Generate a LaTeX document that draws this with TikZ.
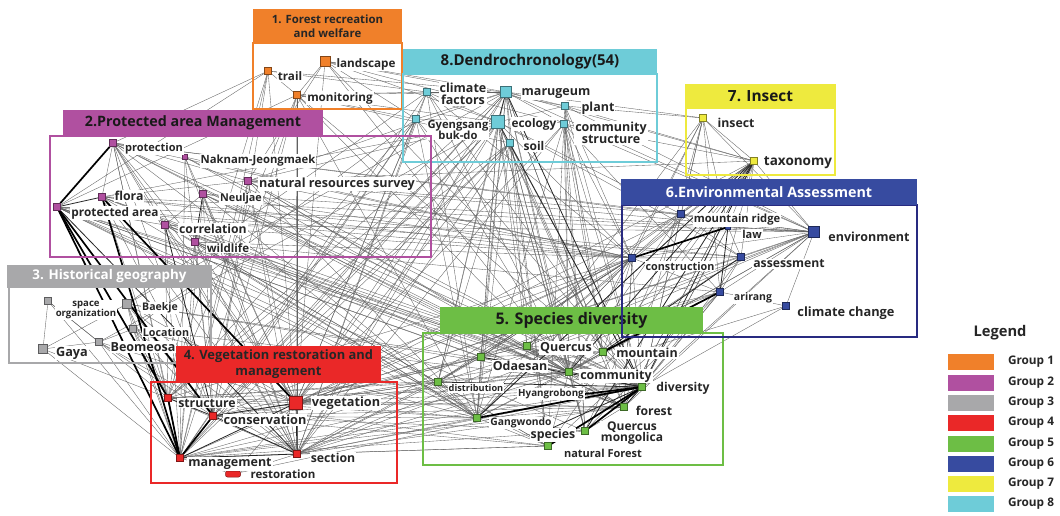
\documentclass[tikz,border=0pt]{standalone}
\usepackage{fontspec}
\setmainfont{Open Sans}
\definecolor{gorange}{RGB}{240,128,42}
\definecolor{gpurple}{RGB}{176,80,160}
\definecolor{ggray}{RGB}{168,168,170}
\definecolor{gred}{RGB}{234,40,40}
\definecolor{ggreen}{RGB}{109,190,69}
\definecolor{gblue}{RGB}{55,75,160}
\definecolor{gnavy}{RGB}{40,42,128}
\definecolor{gyellow}{RGB}{238,234,62}
\definecolor{gcyan}{RGB}{110,204,216}
\pgfdeclarelayer{bg}
\pgfsetlayers{bg,main}
\begin{document}
\begin{tikzpicture}[x=1pt,y=-1pt,
  edge/.style={draw=black!62, line width=0.35pt},
  edgem/.style={draw=black!85, line width=0.8pt},
  edgeh/.style={draw=black, line width=1.7pt},
  sq/.style={draw=#1!55!black, fill=#1, minimum size=7pt, inner sep=0pt, line width=0.5pt},
  lab/.style={font=\bfseries\fontsize{#1}{#1}\selectfont, fill=white, inner sep=1pt, text=black!85, align=center},
  lab/.default={11},
  hdr/.style={fill=#1, inner sep=0pt, align=center},
  box/.style={draw=#1, line width=2.6pt},
  sw/.style={fill=#1, draw=white, minimum width=47pt, minimum height=17pt, inner sep=0pt},
  gl/.style={font=\bfseries\fontsize{11.8}{11.8}\selectfont, text=black!85}
]
\useasboundingbox (0,0) rectangle (1060,516);

% ---------- squares ----------
% group 1
\node[sq=gorange] (trail) at (268,71) {};
\node[sq=gorange, minimum size=10pt] (land) at (325,61) {};
\node[sq=gorange] (monit) at (297,95) {};
% group 8
\node[sq=gcyan] (clim) at (427,92) {};
\node[sq=gcyan, minimum size=11pt] (maru) at (506,92) {};
\node[sq=gcyan] (gyeng) at (416,119) {};
\node[sq=gcyan, minimum size=13pt] (eco) at (498,122) {};
\node[sq=gcyan] (plant) at (565,106) {};
\node[sq=gcyan] (comst) at (564,124) {};
\node[sq=gcyan] (soil) at (510,143) {};
% group 2
\node[sq=gpurple] (prot) at (113,143) {};
\node[sq=gpurple, minimum size=5pt] (nak) at (185,157) {};
\node[sq=gpurple] (nrs) at (248,181) {};
\node[sq=gpurple] (flora) at (102,197) {};
\node[sq=gpurple] (neul) at (203,194) {};
\node[sq=gpurple] (parea) at (57,207) {};
\node[sq=gpurple] (corr) at (165,225) {};
\node[sq=gpurple] (wild) at (195,242) {};
% group 3
\node[sq=ggray] (space) at (48,301) {};
\node[sq=ggray, minimum size=9pt] (baek) at (127,304) {};
\node[sq=ggray] (loc) at (133,329) {};
\node[sq=ggray, minimum size=9pt] (gaya) at (43,349) {};
\node[sq=ggray] (beom) at (99,342) {};
% group 4
\node[sq=gred] (struc) at (168,398) {};
\node[sq=gred, minimum size=13pt] (veg) at (296,403) {};
\node[sq=gred] (cons) at (213,416) {};
\node[sq=gred] (mgmt) at (180,458) {};
\node[sq=gred] (sect) at (297,454) {};
\node[sq=gred, minimum width=15pt, minimum height=6pt, rounded corners=2pt] (rest) at (233,474) {};
% group 5
\node[sq=ggreen] (querc) at (527,346) {};
\node[sq=ggreen] (mount) at (603,352) {};
\node[sq=ggreen] (odae) at (481,357) {};
\node[sq=ggreen] (comm) at (569,372) {};
\node[sq=ggreen] (distr) at (438,382) {};
\node[sq=ggreen] (div) at (642,387) {};
\node[sq=ggreen] (forest) at (624,407) {};
\node[sq=ggreen] (gang) at (477,418) {};
\node[sq=ggreen] (qmong) at (585,431) {};
\node[sq=ggreen] (natf) at (548,446) {};
% group 6
\node[sq=gblue] (mridge) at (681,214) {};
\node[sq=gblue, minimum size=5pt] (law) at (728,227) {};
\node[sq=gblue, minimum size=11pt] (env) at (814,232) {};
\node[sq=gblue] (constr) at (632,258) {};
\node[sq=gblue] (assess) at (741,257) {};
\node[sq=gblue] (arir) at (720,292) {};
\node[sq=gblue] (cchange) at (786,306) {};
% group 7
\node[sq=gyellow] (insect) at (703,118) {};
\node[sq=gyellow] (tax) at (754,161) {};

% ---------- labels ----------
\node[lab=11.7] (trail-l) at (290,76) {trail};
\node[lab=11.7] (land-l) at (366,64) {landscape};
\node[lab=11.7] (monit-l) at (340,98) {monitoring};
\node[lab=12.5] (clim-l) at (463,94) {climate\\[-1pt]factors};
\node[lab=12.5] (maru-l) at (556,94) {marugeum};
\node[lab=11.2] (gyeng-l) at (458,130) {Gyengsang\\[-1pt]buk-do};
\node[lab=11.8] (eco-l) at (534,124) {ecology};
\node[lab=12.5] (plant-l) at (598,108) {plant};
\node[lab=12.5] (comst-l) at (611,133) {community\\[-1pt]structure};
\node[lab=12] (soil-l) at (534,146) {soil};
\node[lab=11] (prot-l) at (154,149) {protection};
\node[lab=11.3] (nak-l) at (258,161) {Naknam-Jeongmaek};
\node[lab=12.6] (nrs-l) at (337,184) {natural resources survey};
\node[lab=12.3] (flora-l) at (129,196) {flora};
\node[lab=10.8] (neul-l) at (241,199) {Neuljae};
\node[lab=11.8] (parea-l) at (115,213) {protected area};
\node[lab=12.2] (corr-l) at (213,229) {correlation};
\node[lab=11.5] (wild-l) at (228,248) {wildlife};
\node[lab=9.6] (space-l) at (86,310) {space\\[0pt]organization};
\node[lab=10.5] (baek-l) at (160,308) {Baekje};
\node[lab=10.7] (loc-l) at (166,332) {Location};
\node[lab=12.7] (gaya-l) at (72,353) {Gaya};
\node[lab=12.5] (beom-l) at (143,347) {Beomeosa};
\node[lab=12.3] (struc-l) at (207,403) {structure};
\node[lab=12.7] (veg-l) at (346,403) {vegetation};
\node[lab=12.7] (cons-l) at (265,420) {conservation};
\node[lab=12.5] (mgmt-l) at (230,464) {management};
\node[lab=12.3] (sect-l) at (333,458) {section};
\node[lab=11.5] (rest-l) at (283,474) {restoration};
\node[lab=12.5] (querc-l) at (566,348) {Quercus};
\node[lab=12.5] (mount-l) at (647,353) {mountain};
\node[lab=12.4] (odae-l) at (520,366) {Odaesan};
\node[lab=12.5] (comm-l) at (616,376) {community};
\node[lab=9.2] (distr-l) at (476,388) {distribution};
\node[lab=9.8] (hyang-l) at (551,394) {Hyangrobong};
\node[lab=12.2] (div-l) at (683,388) {diversity};
\node[lab=12.2] (forest-l) at (654,411) {forest};
\node[lab=10.3] (gang-l) at (521,423) {Gangwondo};
\node[lab=12.3] (species-l) at (553,435) {species};
\node[lab=12] (qmong-l) at (632,433) {Quercus\\[-1pt]mongolica};
\node[lab=11] (natf-l) at (603,453) {natural Forest};
\node[lab=11.2] (mridge-l) at (737,220) {mountain ridge};
\node[lab=11] (law-l) at (752,234) {law};
\node[lab=12.5] (env-l) at (869,237) {environment};
\node[lab=10.8] (constr-l) at (680,266) {construction};
\node[lab=12.2] (assess-l) at (789,264) {assessment};
\node[lab=10.5] (arir-l) at (753,298) {arirang};
\node[lab=12.8] (cchange-l) at (846,313) {climate change};
\node[lab=12.3] (insect-l) at (736,123) {insect};
\node[lab=13.5] (tax-l) at (798,163) {taxonomy};

% ---------- edges ----------
\begin{pgfonlayer}{bg}
\path[fill=white] (0,0) rectangle (1060,516);
\foreach \a/\b in {trail/parea, trail/mgmt, trail/clim, trail/maru, trail/monit, trail/struc,
  land/monit, land/plant, land/comst, land/gyeng, land/eco,
  monit/clim, monit/gyeng, monit/maru, monit/mgmt, monit/soil, monit/div, monit/cons,
  clim/maru, clim/eco, clim/div, clim/veg, clim/comm,
  maru/plant, maru/comst, maru/comm, maru/mount, maru/forest, maru/veg, maru/sect, maru/gang, maru/qmong, maru/natf, maru/env, maru/querc,
  eco/plant, eco/comm, eco/mount, eco/querc, eco/forest, eco/veg, eco/mgmt, eco/sect, eco/natf, eco/cons, eco/constr, eco/odae,
  gyeng/eco, gyeng/maru, gyeng/comm, gyeng/veg, gyeng/cons, gyeng/div,
  plant/comst, plant/tax, plant/div, plant/comm, plant/env,
  comst/tax, comst/div, comst/forest, comst/comm, comst/qmong, comst/natf, comst/mount, comst/arir,
  soil/div, soil/comm, soil/gang, soil/veg, soil/sect, soil/mount,
  prot/flora, prot/corr, prot/wild, prot/veg, prot/sect, prot/mgmt, prot/cons, prot/div, prot/comm, prot/nrs,
  nak/cons, nak/veg, nak/div,
  nrs/flora, nrs/maru, nrs/veg, nrs/div, nrs/eco, nrs/comm, nrs/sect,
  flora/eco, flora/div, flora/comm, flora/sect, flora/constr,
  neul/corr, neul/veg, neul/sect, neul/comm, neul/div,
  parea/corr, parea/div, parea/forest, parea/env, parea/constr, parea/comm, parea/gang, parea/distr,
  corr/veg, corr/div, corr/comm, corr/sect, corr/env,
  wild/sect, wild/div, wild/veg, wild/comm, wild/cons, wild/forest,
  space/beom, gaya/baek, baek/loc, loc/beom, baek/mgmt, loc/struc, beom/mgmt, gaya/beom, baek/veg, loc/cons,
  struc/veg, struc/sect, struc/div, struc/comm, struc/distr, struc/gang,
  veg/div, veg/comm, veg/forest, veg/distr, veg/gang, veg/odae, veg/querc, veg/mount, veg/assess, veg/constr,
  cons/div, cons/comm, cons/gang, cons/odae, cons/forest,
  mgmt/div, mgmt/comm, mgmt/gang, mgmt/natf,
  sect/div, sect/forest, sect/comm, sect/gang, sect/natf, sect/distr, sect/odae,
  rest/mgmt, rest/sect,
  querc/mount, querc/comm, querc/odae, querc/div,
  mount/comm, mount/div, mount/odae, mount/env,
  odae/comm, odae/distr, odae/gang,
  comm/forest, comm/qmong, comm/gang, comm/distr, comm/natf,
  distr/gang,
  div/arir, div/constr, div/env, div/insect, div/assess,
  forest/qmong, forest/gang, gang/natf, gang/qmong,
  mridge/env, mridge/law, mridge/assess, mridge/constr, mridge/div, mridge/comm,
  law/env, law/assess, env/assess, env/constr, env/arir,
  constr/arir, constr/assess, constr/comm, constr/gang,
  assess/arir, arir/cchange, arir/comm,
  insect/tax, insect/mridge, insect/constr, insect/comm,
  tax/env, tax/constr, tax/arir, tax/forest, tax/mridge}
  \draw[edge] (\a) -- (\b);
% long cross-group edges
\foreach \a/\b in {maru/mgmt, maru/struc, maru/cons, maru/distr, maru/odae, eco/struc, eco/gang, eco/distr, eco/qmong,
  clim/sect, clim/mgmt, clim/gang, gyeng/sect, gyeng/mgmt, gyeng/struc, gyeng/gang, soil/mgmt, soil/cons, soil/struc,
  soil/qmong, soil/natf, soil/distr, comst/veg, comst/sect, comst/gang, comst/constr, comst/env, plant/mount, plant/qmong,
  plant/constr, plant/insect, maru/tax, maru/insect, eco/mridge, eco/assess, clim/constr, clim/baek, gyeng/loc, maru/baek, eco/beom,
  monit/veg, monit/sect, monit/comm, monit/gang, monit/struc, land/veg, land/div, land/comm, trail/cons, trail/veg, trail/prot,
  land/nrs, monit/parea, monit/eco, land/maru,
  prot/constr, prot/env, prot/mridge, prot/forest, prot/gang, prot/struc, nak/sect, nak/comm, nak/constr, nak/mgmt,
  nrs/constr, nrs/env, nrs/mridge, nrs/forest, nrs/gang, nrs/tax, nrs/mgmt, nrs/cons, neul/mgmt, neul/cons, neul/gang,
  neul/forest, neul/constr, neul/env, flora/forest, flora/gang, flora/struc, flora/cons, flora/env, flora/assess,
  corr/gang, corr/forest, corr/natf, corr/mgmt, corr/struc, corr/constr, wild/gang, wild/natf, wild/mgmt, wild/struc,
  wild/constr, wild/arir, parea/natf, parea/qmong, parea/assess, parea/odae,
  space/mgmt, space/struc, baek/sect, baek/cons, baek/div, baek/comm, loc/veg, loc/sect, loc/div, beom/cons, beom/sect,
  gaya/mgmt, gaya/struc, loc/mgmt, baek/struc, beom/veg, space/gaya, loc/gang,
  veg/env, veg/arir, veg/tax, veg/mridge, sect/constr, sect/arir, sect/env, struc/constr, struc/forest, mgmt/forest,
  mgmt/qmong, mgmt/distr, cons/natf, cons/qmong, cons/distr, cons/constr, struc/natf, mgmt/constr, rest/div, rest/veg,
  querc/constr, querc/env, odae/constr, odae/env, distr/constr, distr/arir, gang/constr, gang/arir, natf/arir, qmong/arir,
  forest/arir, forest/constr, forest/env, comm/env, comm/assess, mount/constr, mount/tax, querc/tax, odae/tax, distr/tax,
  gang/tax, forest/tax, natf/tax, qmong/mridge, div/law,
  insect/env, insect/law, insect/arir, insect/forest, insect/gang, tax/assess, tax/law, cchange/env, cchange/div,
  cchange/comm, law/div, constr/forest, constr/distr, constr/odae}
  \draw[edge] (\a) -- (\b);
\foreach \a/\b in {parea/sect, veg/sect, cons/sect, mgmt/sect, mgmt/veg, flora/parea, corr/cons,
  neul/wild, tax/div, tax/comm, law/arir, div/forest, comm/div, maru/div, eco/div, maru/eco,
  odae/div, distr/div, mount/assess, struc/cons, veg/cons, tax/gang, tax/qmong}
  \draw[edgem] (\a) -- (\b);
\foreach \a/\b in {prot/parea, parea/mgmt, parea/struc, parea/cons, flora/mgmt, flora/veg,
  struc/mgmt, cons/mgmt, div/gang, div/natf, div/qmong, law/constr, mount/arir}
  \draw[edgeh] (\a) -- (\b);
\draw[edgeh] (div) -- (hyang-l.east);
\draw[edgem] (div) -- (species-l.north);
\end{pgfonlayer}

% ---------- group boxes ----------
\draw[box=gorange] (253,43) rectangle (402,109);
\node[hdr=gorange, minimum width=149pt, minimum height=34pt, font=\bfseries\fontsize{11.4}{13.5}\selectfont, text=black!85] (h1) at (327.5,26) {1. Forest recreation\\and welfare};
\draw[box=gcyan] (403,74) rectangle (657,162);
\node[hdr=gcyan, minimum width=254pt, minimum height=25pt, font=\bfseries\fontsize{15}{15}\selectfont, text=black!90] (h8) at (530,61.5) {8.Dendrochronology(54)};
\draw[box=gpurple] (50,136) rectangle (431,257);
\node[hdr=gpurple, minimum width=260pt, minimum height=26pt, font=\bfseries\fontsize{14.3}{14.3}\selectfont, text=black!90] (h2) at (193,123) {2.Protected area Management};
\draw[box=ggray] (9,287) rectangle (211,363);
\node[hdr=ggray, minimum width=205pt, minimum height=23pt, font=\bfseries\fontsize{13.4}{13.4}\selectfont, text=white] (h3) at (109.5,276) {3. Historical geography};
\draw[box=gred] (151,382) rectangle (397,483);
\node[hdr=gred, minimum width=205pt, minimum height=36pt, font=\bfseries\fontsize{12.9}{15.5}\selectfont, text=black!85] (h4) at (278.5,364) {4. Vegetation restoration and\\management};
\draw[box=ggreen] (423,333) rectangle (723,465);
\node[hdr=ggreen, minimum width=263pt, minimum height=26pt, font=\bfseries\fontsize{16}{16}\selectfont, text=black!90] (h5) at (571.5,320) {5. Species diversity};
\draw[box=gnavy] (622,205) rectangle (917,337);
\node[hdr=gblue, minimum width=296pt, minimum height=26pt, font=\bfseries\fontsize{14.3}{14.3}\selectfont, text=white] (h6) at (769,192) {6.Environmental Assessment};
\draw[box=gyellow] (686,108) rectangle (835,175);
\node[hdr=gyellow, minimum width=151pt, minimum height=24pt, font=\bfseries\fontsize{15.4}{15.4}\selectfont, text=black!90] (h7) at (760.5,96) {7. Insect};

% ---------- legend ----------
\node[font=\bfseries\fontsize{14.7}{14.7}\selectfont, text=black!85] (legend) at (1000,333) {Legend};
\foreach \c [count=\i] in {gorange,gpurple,ggray,gred,ggreen,gblue,gyellow,gcyan} {
  \node[sw=\c] (sw\i) at (970.5,{362+20.3*(\i-1)}) {};
  \node[gl] (gl\i) at (1031,{362+20.3*(\i-1)}) {Group \i};
}
\end{tikzpicture}
\end{document}
